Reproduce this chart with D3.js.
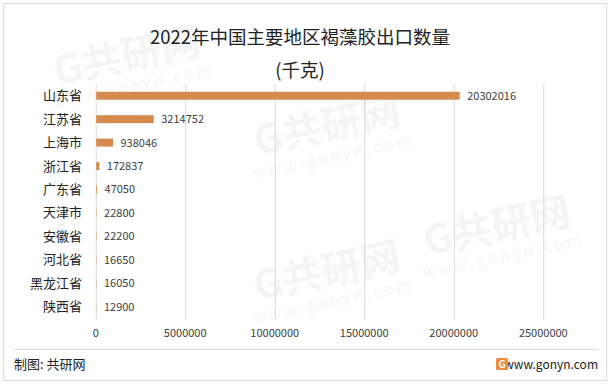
<!DOCTYPE html>
<html>
<head>
<meta charset="utf-8">
<script src="https://cdn.jsdelivr.net/npm/d3@7"></script>
<style>
  body { margin: 0; background: #fff; }
  text { font-family: "Noto Sans CJK SC", "Noto Sans", sans-serif; }
</style>
</head>
<body>
<div id="chart"></div>
<script>
"use strict";

// Size of SVG
const w = 611;
const h = 385;

// Data
const regions = ["山东省", "江苏省", "上海市", "浙江省", "广东省", "天津市", "安徽省", "河北省", "黑龙江省", "陕西省"];
const exportQty = [20302016, 3214752, 938046, 172837, 47050, 22800, 22200, 16650, 16050, 12900];
const xTicks = [0, 5000000, 10000000, 15000000, 20000000, 25000000];

const svg = d3.select("#chart")
	.append("svg")
	.attr("width", w)
	.attr("height", h);

// Outer frame
svg.append("rect")
	.attr("x", 3.5)
	.attr("y", 3.5)
	.attr("width", 603)
	.attr("height", 377)
	.attr("fill", "#fff")
	.attr("stroke", "#d9d9d9");

// Faint watermarks (kept inside the frame)
const marks = [[130, 70], [330, 140], [330, 285], [500, 240]];
marks.forEach(function (m) {
	const g = svg.append("g")
		.attr("transform", "translate(" + m[0] + "," + m[1] + ") rotate(-12)")
		.attr("opacity", 0.035);
	g.append("text")
		.attr("text-anchor", "middle")
		.style("font-size", "40px")
		.style("font-weight", "bold")
		.attr("fill", "#000")
		.text("G共研网");
	g.append("text")
		.attr("y", 22)
		.attr("text-anchor", "middle")
		.style("font-size", "16px")
		.style("letter-spacing", "3px")
		.attr("fill", "#000")
		.text("www.gonyn.com");
});

// Scales
const x = d3.scaleLinear()
	.domain([0, 25000000])
	.range([95.7, 543.3]);

const y = d3.scaleBand()
	.domain(regions)
	.range([84, 318.4])
	.paddingInner(0.66)
	.paddingOuter(0.33);

// Gridlines
svg.append("g")
	.selectAll("line")
	.data(xTicks)
	.enter()
	.append("line")
	.attr("x1", d => x(d) + 0.5)
	.attr("x2", d => x(d) + 0.5)
	.attr("y1", 84)
	.attr("y2", 320)
	.attr("stroke", "#d9d9d9")
	.attr("stroke-width", 1);

// X tick labels
svg.append("g")
	.selectAll("text")
	.data(xTicks)
	.enter()
	.append("text")
	.attr("x", d => x(d))
	.attr("y", 337)
	.attr("text-anchor", "middle")
	.style("font-size", "11px")
	.attr("fill", "#404040")
	.text(d => d);

// Bars
svg.append("g")
	.selectAll("rect")
	.data(regions)
	.enter()
	.append("rect")
	.attr("x", x(0) + 0.5)
	.attr("y", d => y(d))
	.attr("width", (d, i) => x(exportQty[i]) - x(0))
	.attr("height", y.bandwidth())
	.attr("fill", "#d58b4d");

// Value labels
svg.append("g")
	.selectAll("text")
	.data(regions)
	.enter()
	.append("text")
	.attr("x", (d, i) => x(exportQty[i]) + 8)
	.attr("y", d => y(d) + y.bandwidth() / 2 + 4)
	.style("font-size", "11px")
	.attr("fill", "#404040")
	.text((d, i) => exportQty[i]);

// Category labels
svg.append("g")
	.selectAll("text")
	.data(regions)
	.enter()
	.append("text")
	.attr("x", 82)
	.attr("y", d => y(d) + y.bandwidth() / 2 + 4.5)
	.attr("text-anchor", "end")
	.style("font-size", "13px")
	.attr("fill", "#222")
	.text(d => d);

// Title
svg.append("text")
	.attr("x", 300)
	.attr("y", 44)
	.attr("text-anchor", "middle")
	.style("font-size", "18.5px")
	.attr("fill", "#222")
	.text("2022年中国主要地区褐藻胶出口数量");

svg.append("text")
	.attr("x", 300)
	.attr("y", 77)
	.attr("text-anchor", "middle")
	.style("font-size", "18.5px")
	.attr("fill", "#222")
	.text("(千克)");

// Footer
svg.append("line")
	.attr("x1", 14)
	.attr("x2", 598)
	.attr("y1", 349.5)
	.attr("y2", 349.5)
	.attr("stroke", "#d9d9d9");

svg.append("text")
	.attr("x", 14)
	.attr("y", 369)
	.style("font-size", "13px")
	.attr("fill", "#222")
	.text("制图: 共研网");

svg.append("text")
	.attr("x", 598)
	.attr("y", 369)
	.attr("text-anchor", "end")
	.style("font-size", "12px")
	.attr("fill", "#222")
	.text("www.gonyn.com");

// Small logo
svg.append("rect")
	.attr("x", 496)
	.attr("y", 358)
	.attr("width", 12)
	.attr("height", 12)
	.attr("rx", 1.5)
	.attr("fill", "#f08a3c");
svg.append("text")
	.attr("x", 502)
	.attr("y", 368)
	.attr("text-anchor", "middle")
	.style("font-size", "10px")
	.style("font-weight", "bold")
	.attr("fill", "#fff")
	.text("G");
</script>
</body>
</html>
